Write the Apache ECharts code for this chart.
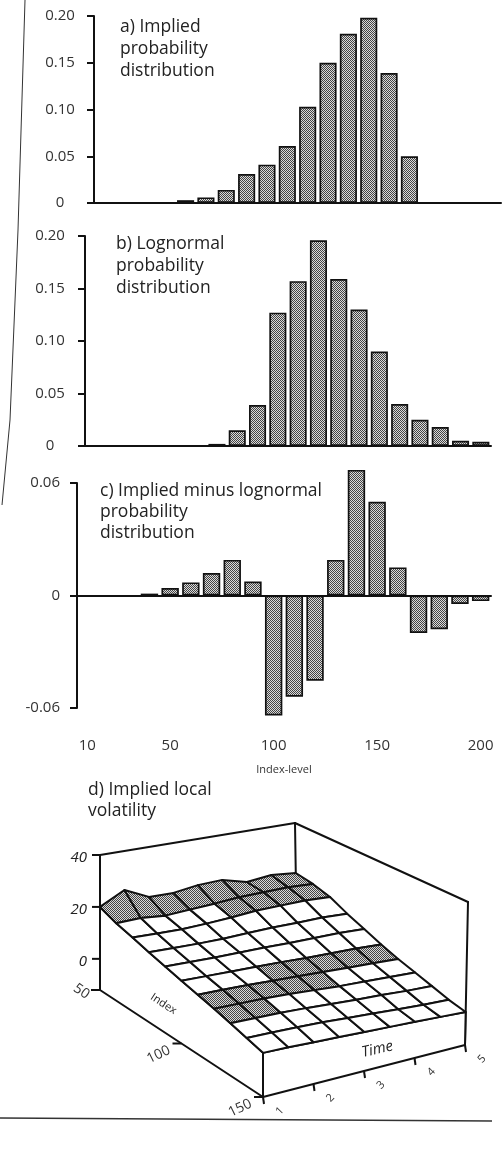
<!DOCTYPE html>
<html><head><meta charset="utf-8">
<script src="https://cdn.jsdelivr.net/npm/echarts@6/dist/echarts.min.js"></script>
<style>html,body{margin:0;padding:0;background:#fff}#c{width:502px;height:1149px}</style>
</head><body><div id="c"></div>
<script>
// ---------- data ----------
const categories = [10,20,30,40,50,60,70,80,90,100,110,120,130,140,150,160,170,180,190,200];
const impliedProb   = [null,null,null,null,0.003,0.006,0.014,0.031,0.041,0.061,0.103,0.150,0.181,0.198,0.139,0.050,null,null,null,null];
const lognormalProb = [null,null,null,null,null,null,0.002,0.015,0.039,0.127,0.157,0.196,0.159,0.130,0.090,0.040,0.025,0.018,0.005,0.004];
const diffProb      = [null,null,null,0.001,0.004,0.007,0.012,0.019,0.0075,-0.064,-0.054,-0.0455,0.019,0.067,0.050,0.015,-0.020,-0.018,-0.0045,-0.003];
const xTickLabels = ['10','50','100','150','200'];

const volIndex = [50,60,70,80,90,100,110,120,130,140,150];
const volTime  = [1,1.5,2,2.5,3,3.5,4,4.5,5];
const volSurface = [
  [20.0,24.9,20.6,20.5,21.9,22.3,19.8,20.9,20.0],
  [17.5,17.8,17.0,17.6,18.2,19.0,19.2,19.4,19.0],
  [15.8,15.6,15.4,15.8,16.4,17.2,17.4,17.6,17.2],
  [14.0,13.8,13.6,13.6,14.0,14.2,14.2,14.4,14.0],
  [12.4,12.2,12.0,12.0,12.0,11.8,11.8,11.8,11.4],
  [10.8,10.6,10.4,10.2,10.0, 9.6, 9.4, 9.2, 8.8],
  [ 9.4, 9.2, 9.0, 8.6, 8.2, 7.8, 7.4, 7.0, 6.6],
  [ 8.0, 7.8, 7.6, 7.2, 6.6, 6.0, 5.6, 5.2, 4.8],
  [ 6.4, 6.2, 6.0, 5.6, 5.0, 4.4, 4.0, 3.4, 3.0],
  [ 4.8, 4.6, 4.4, 4.0, 3.4, 2.8, 2.2, 1.6, 1.2],
  [ 3.2, 3.0, 2.6, 2.2, 1.8, 1.4, 1.0, 0.5, 0.0]
];
const volZTicks = [0,20,40];
const volIndexTicks = [50,100,150];
const volTimeTicks = [1,2,3,4,5];

// ---------- styles / layout ----------
const FONT = '"Open Sans", Lato, sans-serif';
function makePattern(light, dark){
  const cv = document.createElement('canvas'); cv.width = 4; cv.height = 4;
  const g = cv.getContext('2d'); g.fillStyle = light; g.fillRect(0,0,4,4); g.fillStyle = dark;
  for (let x=0;x<4;x++) for (let y=0;y<4;y++) if ((x+y)%2===0) g.fillRect(x,y,1,1);
  return cv;
}
const hatch = {image: makePattern('#dadada','#444444'), repeat:'repeat'};

// 3D frame (screen-space corners of the projection box)
const box = {
  floor: {bl:[100,990], br:[297,953], fl:[263,1097], fr:[465,1045]},
  top:   {bl:[100,855], br:[295,823], fl:[263,946],  fr:[468,902]}
};
const zRange = [-12,40], iRange = [50,150], tRange = [1,5];
function bilerp(q,u,v){
  const b=[q.bl[0]+(q.br[0]-q.bl[0])*v, q.bl[1]+(q.br[1]-q.bl[1])*v];
  const f=[q.fl[0]+(q.fr[0]-q.fl[0])*v, q.fl[1]+(q.fr[1]-q.fl[1])*v];
  return [b[0]+(f[0]-b[0])*u, b[1]+(f[1]-b[1])*u];
}
function proj(idx,t,z){
  const u=(idx-iRange[0])/(iRange[1]-iRange[0]);
  const v=(t-tRange[0])/(tRange[1]-tRange[0]);
  const w=(z-zRange[0])/(zRange[1]-zRange[0]);
  const a=bilerp(box.floor,u,v), b=bilerp(box.top,u,v);
  return [a[0]+(b[0]-a[0])*w, a[1]+(b[1]-a[1])*w];
}

const chart = echarts.init(document.getElementById('c'), null, {renderer:'canvas'});

function catAxis(grid, extra){
  return Object.assign({
    type:'category', gridIndex:grid, data:categories.map(String), boundaryGap:true,
    axisLine:{show:true, onZero:true, lineStyle:{color:'#111', width:2}},
    axisTick:{show:false}, axisLabel:{show:false}, splitLine:{show:false}
  }, extra||{});
}
function valAxis(grid, min, max, interval, margin, align){
  return {
    type:'value', gridIndex:grid, min:min, max:max, interval:interval,
    axisLine:{show:true, lineStyle:{color:'#111', width:2}},
    axisTick:{show:true, inside:false, length:7, lineStyle:{color:'#111', width:2}},
    axisLabel:{margin:margin, align:align, color:'#333', fontFamily:FONT, fontSize:15,
      formatter: v => v===0 ? '0' : v.toFixed(2)},
    splitLine:{show:false}
  };
}
const barStyle = {color:hatch, borderColor:'#111', borderWidth:1.7};
function barSeries(x,y,data){
  return {type:'bar', xAxisIndex:x, yAxisIndex:y, data:data, barWidth:'84%', clip:false,
    itemStyle:barStyle, silent:true};
}

const surfCells = [];
for (let r=0;r<volIndex.length-1;r++) for (let c=0;c<volTime.length-1;c++) surfCells.push([r,c]);

function txt(x,y,text,opt){
  opt = opt||{};
  return {type:'text', x:x, y:y, rotation:opt.rot||0,
    style:{text:text, fill:opt.color||'#222', align:opt.align||'center', verticalAlign:opt.va||'middle',
      font:(opt.italic?'italic ':'')+(opt.size||14)+'px '+FONT}};
}
const TITLE_FONT = '17.5px '+FONT;

const option = {
  animation:false,
  backgroundColor:'#fff',
  grid:[
    {left:94, top:16, width:407, height:187},
    {left:85, top:236, width:406, height:210},
    {left:77, top:483, width:414, height:225},
    {left:0, top:0, width:502, height:1149}
  ],
  xAxis:[
    catAxis(0), catAxis(1), catAxis(2),
    catAxis(2, {position:'bottom', axisLine:{show:false, onZero:false},
      axisLabel:{show:true, margin:30, color:'#333', fontFamily:FONT, fontSize:15,
        interval:(i,v)=>xTickLabels.includes(v)},
      name:'Index-level', nameLocation:'middle', nameGap:56,
      nameTextStyle:{color:'#333', fontFamily:FONT, fontSize:11}}),
    {type:'value', gridIndex:3, min:0, max:502, show:false}
  ],
  yAxis:[
    valAxis(0,0,0.20,0.05,34,'center'),
    valAxis(1,0,0.20,0.05,35,'center'),
    valAxis(2,-0.06,0.06,0.06,17,'right'),
    {type:'value', gridIndex:3, min:0, max:1149, inverse:true, show:false}
  ],
  graphic:[
    {type:'polyline', shape:{points:[[25,0],[18,230],[10,420],[2,505]]}, style:{stroke:'#333', lineWidth:1, fill:null}, silent:true},
    {type:'line', shape:{x1:0,y1:1118,x2:492,y2:1121}, style:{stroke:'#333', lineWidth:1.4}, silent:true},
    {type:'text', left:120, top:16, style:{text:'a) Implied\nprobability\ndistribution', font:TITLE_FONT, fill:'#222', lineHeight:22}},
    {type:'text', left:116, top:233, style:{text:'b) Lognormal\nprobability\ndistribution', font:TITLE_FONT, fill:'#222', lineHeight:22}},
    {type:'text', left:100, top:481, style:{text:'c) Implied minus lognormal\nprobability\ndistribution', font:TITLE_FONT, fill:'#222', lineHeight:21}},
    {type:'text', left:88, top:780, style:{text:'d) Implied local\nvolatility', font:TITLE_FONT, fill:'#222', lineHeight:21}}
  ],
  series:[
    barSeries(0,0,impliedProb),
    barSeries(1,1,lognormalProb),
    barSeries(2,2,diffProb),
    // 3D frame behind the surface
    {type:'custom', xAxisIndex:4, yAxisIndex:3, data:[[0,0]], silent:true,
      renderItem:(params, api)=>{
        const P=(i,t,z)=>api.coord(proj(i,t,z));
        const L=(a,b)=>({type:'line', shape:{x1:a[0],y1:a[1],x2:b[0],y2:b[1]}, style:{stroke:'#111', lineWidth:2, lineCap:'round'}});
        const z0=zRange[0], z1=zRange[1], i0=iRange[0], i1=iRange[1], t0=tRange[0], t1=tRange[1];
        return {type:'group', children:[
          L(P(i0,t0,z0),P(i0,t0,z1)),
          L(P(i0,t0,z1),P(i0,t1,z1)),
          L(P(i0,t1,z1),P(i0,t1,z0)),
          L(P(i0,t1,z1),P(i1,t1,z1)),
          L(P(i1,t1,z1),P(i1,t1,z0))
        ]};
      }},
    // side faces under the surface
    {type:'custom', xAxisIndex:4, yAxisIndex:3, data:[[0,0]], silent:true,
      renderItem:(params, api)=>{
        const P=(i,t,z)=>api.coord(proj(i,t,z));
        const z0=zRange[0], nI=volIndex.length, nT=volTime.length;
        const left=[P(volIndex[0],volTime[0],z0), P(volIndex[nI-1],volTime[0],z0)];
        for (let r=nI-1;r>=0;r--) left.push(P(volIndex[r],volTime[0],volSurface[r][0]));
        const front=[P(volIndex[nI-1],volTime[0],z0), P(volIndex[nI-1],volTime[nT-1],z0)];
        for (let c=nT-1;c>=0;c--) front.push(P(volIndex[nI-1],volTime[c],volSurface[nI-1][c]));
        const st={fill:'#fff', stroke:'#111', lineWidth:2, lineJoin:'round'};
        return {type:'group', children:[
          {type:'polygon', shape:{points:left}, style:st},
          {type:'polygon', shape:{points:front}, style:st}
        ]};
      }},
    // surface cells
    {type:'custom', xAxisIndex:4, yAxisIndex:3, data:surfCells, silent:true,
      renderItem:(params, api)=>{
        const r=api.value(0), c=api.value(1);
        const pts=[[r,c],[r,c+1],[r+1,c+1],[r+1,c]].map(([i,j])=>api.coord(proj(volIndex[i],volTime[j],volSurface[i][j])));
        const avg=(volSurface[r][c]+volSurface[r][c+1]+volSurface[r+1][c]+volSurface[r+1][c+1])/4;
        const shaded = avg>=17.5 || (avg>=6.8 && avg<9.3);
        return {type:'polygon', shape:{points:pts}, style:{fill:shaded?hatch:'#fff', stroke:'#111', lineWidth:2, lineJoin:'round'}};
      }},
    // 3D axes ticks and labels
    {type:'custom', xAxisIndex:4, yAxisIndex:3, data:[[0,0]], silent:true,
      renderItem:(params, api)=>{
        const P=(i,t,z)=>api.coord(proj(i,t,z));
        const ch=[];
        const tick=(a,dx,dy)=>({type:'line', shape:{x1:a[0],y1:a[1],x2:a[0]+dx,y2:a[1]+dy}, style:{stroke:'#111', lineWidth:2}});
        volZTicks.forEach(z=>{ const p=P(iRange[0],tRange[0],z); ch.push(tick(p,-8,0)); ch.push(txt(p[0]-13,p[1]+3,String(z),{italic:true,align:'right',size:15})); });
        volIndexTicks.forEach((iv,k)=>{ const p=P(iv,tRange[0],zRange[0]); ch.push(tick(p,-9,0));
          ch.push(txt(p[0]-12,p[1]+6,String(iv),{align:'right',size:14,rot:k===0?-0.6:0.45,color:'#333'})); });
        volTimeTicks.forEach(t=>{ const p=P(iRange[1],t,zRange[0]); ch.push(tick(p,1,7));
          ch.push(txt(p[0]+17,p[1]+14,String(t),{size:11,rot:0.8,color:'#333'})); });
        const ip=P(100,1,-2); ch.push(txt(ip[0]-18,ip[1]-12,'Index',{size:11,rot:-0.58}));
        const tp=P(150,3.3,-5); ch.push(txt(tp[0]-2,tp[1]+2,'Time',{italic:true,size:15,rot:0.22}));
        return {type:'group', children:ch};
      }}
  ]
};
chart.setOption(option);
</script></body></html>
